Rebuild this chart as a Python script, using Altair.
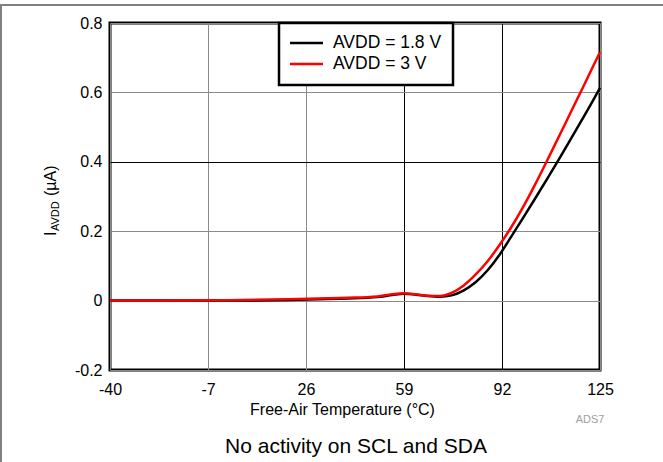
import altair as alt
import pandas as pd

# ---- data ----
temps = [-40, -20, 0, 20, 30, 40, 50, 55, 59, 63, 67, 71, 75, 79, 83, 87, 91, 95, 99, 103, 107, 111, 115, 119, 123, 125]
i_avdd_18 = [0.0, 0.0, 0.0, 0.002, 0.004, 0.006, 0.010, 0.016, 0.020, 0.017, 0.013, 0.011, 0.015, 0.029, 0.052, 0.086,
             0.130, 0.183, 0.237, 0.292, 0.348, 0.405, 0.463, 0.522, 0.582, 0.613]
i_avdd_3 = [0.0, 0.0, 0.001, 0.004, 0.006, 0.008, 0.012, 0.018, 0.021, 0.018, 0.014, 0.013, 0.022, 0.043, 0.074, 0.112,
            0.158, 0.210, 0.268, 0.332, 0.400, 0.470, 0.540, 0.610, 0.681, 0.716]
series = ["AVDD = 1.8 V", "AVDD = 3 V"]
colors = ["#000000", "#ff0000"]
x_ticks = [-40, -7, 26, 59, 92, 125]
y_ticks = [-0.2, 0, 0.2, 0.4, 0.6, 0.8]

rows = []
for s, vals in zip(series, [i_avdd_18, i_avdd_3]):
    for t, v in zip(temps, vals):
        rows.append({"temp": t, "current": v, "series": s})
df = pd.DataFrame(rows)

FONT = "Liberation Sans"
W, H = 490, 347

x_axis = alt.Axis(values=x_ticks, title="Free-Air Temperature (°C)", labelFontSize=16, titleFontSize=16,
                  titleFontWeight="normal", labelPadding=11, titlePadding=4, labelFlush=False, titleX=232,
                  labelExpr="replace(datum.label, '\u2212', '-')",
                  gridColor={"condition": {"test": "datum.value == 59 || datum.value == 92", "value": "#000000"},
                             "value": "#8a8a8a"})
y_axis = alt.Axis(values=y_ticks, title=None, format=".1~f", labelFontSize=16, labelPadding=8,
                  labelExpr="replace(datum.label, '\u2212', '-')",
                  gridColor={"condition": {"test": "abs(datum.value - 0.4) < 0.001", "value": "#000000"},
                             "value": "#8a8a8a"})

lines = alt.Chart(df).mark_line(strokeWidth=2.5, interpolate="monotone").encode(
    x=alt.X("temp:Q", scale=alt.Scale(domain=[-40, 125], nice=False, zero=False), axis=x_axis),
    y=alt.Y("current:Q", scale=alt.Scale(domain=[-0.2, 0.8], nice=False), axis=y_axis),
    color=alt.Color("series:N", scale=alt.Scale(domain=series, range=colors), legend=None),
    order=alt.Order("series:N"),
)

one = pd.DataFrame({"k": [0]})

# legend box (manual)
leg_box = alt.Chart(one).mark_rect(fill="white", stroke="black", strokeWidth=2.5).encode(
    x=alt.value(169), x2=alt.value(343), y=alt.value(0), y2=alt.value(62))
leg_df = pd.DataFrame({"series": series, "ypix": [20, 41]})
leg_sym = alt.Chart(leg_df).mark_rule(strokeWidth=2.5).encode(
    x=alt.value(180), x2=alt.value(213), y=alt.Y("ypix:Q", scale=None),
    color=alt.Color("series:N", scale=alt.Scale(domain=series, range=colors), legend=None))
leg_txt = alt.Chart(leg_df).mark_text(align="left", baseline="middle", fontSize=17.5, font=FONT).encode(
    x=alt.value(223), y=alt.Y("ypix:Q", scale=None), text="series:N")

# y title with subscript
yt_i = alt.Chart(one).mark_text(angle=270, align="left", baseline="alphabetic", fontSize=16, font=FONT).encode(
    x=alt.value(-54), y=alt.value(213), text=alt.value("I"))
yt_sub = alt.Chart(one).mark_text(angle=270, align="left", baseline="alphabetic", fontSize=11, font=FONT).encode(
    x=alt.value(-51), y=alt.value(208), text=alt.value("AVDD"))
yt_unit = alt.Chart(one).mark_text(angle=270, align="left", baseline="alphabetic", fontSize=16, font=FONT).encode(
    x=alt.value(-54), y=alt.value(173), text=alt.value("(µA)"))

# notes
ads = alt.Chart(one).mark_text(align="center", baseline="middle", fontSize=11, font=FONT, color="#a0a0a0").encode(
    x=alt.value(480), y=alt.value(397), text=alt.value("ADS7"))
note = alt.Chart(one).mark_text(align="center", baseline="middle", fontSize=21, font=FONT, color="#000000").encode(
    x=alt.value(246), y=alt.value(424), text=alt.value("No activity on SCL and SDA"))

# page border lines
top_line = alt.Chart(one).mark_rule(color="#808080", strokeWidth=2).encode(
    x=alt.value(-110), x2=alt.value(553), y=alt.value(-18))
left_line = alt.Chart(one).mark_rule(color="#808080", strokeWidth=2).encode(
    x=alt.value(-109), y=alt.value(-18), y2=alt.value(439))

chart = alt.layer(
    lines, leg_box, leg_sym, leg_txt, yt_i, yt_sub, yt_unit, ads, note, top_line, left_line
).properties(
    width=W, height=H,
    autosize=alt.AutoSizeParams(type="none"),
    padding={"left": 110, "top": 23, "right": 63, "bottom": 92},
    background="white",
).configure_view(
    stroke="black", strokeWidth=3
).configure_axis(
    domain=False, ticks=False, labelFont=FONT, titleFont=FONT, labelColor="black", titleColor="black",
    gridWidth=1, gridOpacity=1
).configure_text(font=FONT)

chart.save("out.html", embed_options={"renderer": "svg", "actions": False})
